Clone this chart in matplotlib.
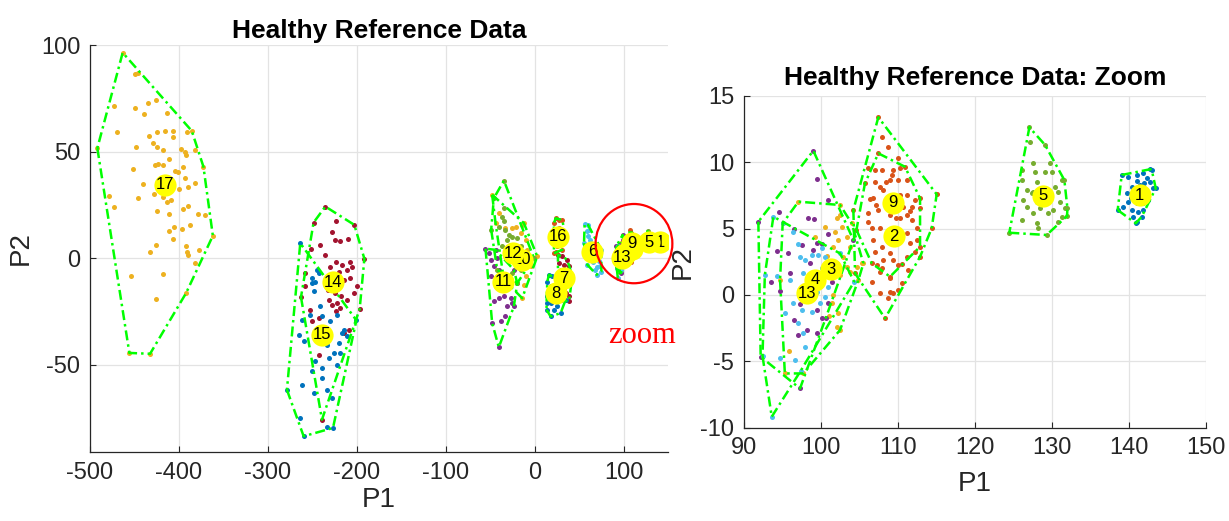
import matplotlib
matplotlib.use("Agg")
import matplotlib.pyplot as plt
import numpy as np
from matplotlib.patches import Ellipse

# 每个簇的点 (P1, P2)，从参考图读出的近似值
p01 = [(139.05, 9.04), (142.73, 9.47), (143.47, 8.04), (140.87, 5.40), (138.53, 6.40),
       (139.91, 8.92), (140.99, 9.04), (141.86, 9.17), (142.30, 8.79), (142.73, 8.54),
       (143.16, 8.04), (140.35, 8.16), (141.43, 8.29), (139.70, 7.66), (142.30, 7.79),
       (139.91, 7.03), (140.99, 6.91), (141.86, 6.91), (142.51, 7.16), (140.35, 6.40),
       (141.21, 6.28), (141.86, 6.40), (140.57, 5.90), (141.65, 5.90), (139.27, 6.66),
       (142.95, 9.42), (141.21, 7.41), (140.99, 5.52), (140.6, 7.7), (142.0, 8.4),
       (141.0, 8.6), (140.2, 7.3)]
p02 = [(107.44, 10.67), (110.9, 9.66), (112.86, 7.28), (112.86, 3.64), (108.96, 1.38),
       (106.6, 2.38), (104.6, 4.9), (105.7, 8.4), (106.15, 5.52), (106.58, 5.02),
       (107.67, 5.02), (112.5, 5.02), (111.13, 4.64), (106.8, 4.14), (107.88, 3.64),
       (111.56, 3.89), (112.4, 4.14), (107.02, 3.26), (112.2, 3.26), (111.13, 2.88),
       (108.96, 3.13), (109.4, 2.63), (108.1, 2.63), (110.05, 2.26), (107.23, 2.26),
       (110.5, 2.3), (107.88, 2.0), (108.5, 8.5), (110.2, 7.5), (107.2, 6.8),
       (109.8, 5.8), (111.5, 6.3), (106.4, 7.2)]
p03 = [(97.06, 7.03), (102.47, 6.78), (103.98, 5.4), (105.5, 2.38), (102.47, -2.64),
       (97.7, -5.91), (95.3, -5.91), (95.02, 5.4), (100.52, 5.14), (102.03, 5.77),
       (102.47, 6.02), (102.68, 5.14), (101.82, 4.77), (103.33, 4.39), (102.25, 4.14),
       (103.77, 3.64), (102.9, 2.88), (103.33, 2.13), (104.63, 2.13), (105.28, 2.38),
       (103.77, 1.75), (104.85, 1.13), (102.47, 1.5), (101.6, 0.0), (101.38, -0.63),
       (102.25, -1.39), (102.03, -2.39), (95.89, -4.2), (99.22, 4.39), (101.6, 3.64),
       (100.8, 2.9), (99.9, 1.6), (101.0, -1.6), (94.68, 1.13)]
p04 = [(91.86, 5.52), (99.0, 10.87), (104.2, 4.14), (97.27, -7.04), (92.16, -4.65),
       (99.44, 8.71), (100.95, 7.15), (94.59, 6.25), (98.35, 5.77), (99.09, 5.70),
       (100.95, 4.59), (94.33, 3.34), (95.76, 3.19), (95.97, 1.63), (99.44, 3.94),
       (100.09, 3.84), (98.57, 2.38), (101.38, 1.0), (101.6, 1.5), (94.68, 0.32),
       (97.27, -0.68), (99.53, -1.14), (100.95, -0.58), (100.09, -1.76), (100.6, -1.76),
       (97.06, -3.02), (96.49, -1.89), (99.5, -2.89), (98.14, -2.64), (97.49, 3.76),
       (99.0, 3.39), (93.5, 1.0), (96.5, 5.0)]
p05 = [(127.06, 12.63), (129.1, 11.3), (131.6, 8.66), (132.0, 6.53), (131.95, 5.95),
       (129.3, 4.52), (124.45, 4.69), (127.14, 11.55), (127.58, 9.92), (129.74, 9.97),
       (126.06, 8.67), (127.79, 9.29), (129.09, 9.29), (129.96, 9.29), (131.26, 8.67),
       (126.71, 7.91), (128.01, 8.54), (130.39, 8.16), (127.36, 7.66), (129.74, 7.66),
       (130.82, 7.79), (126.28, 7.16), (128.01, 7.03), (129.53, 7.03), (131.04, 7.03),
       (126.71, 6.66), (128.44, 6.53), (130.17, 6.4), (131.69, 6.53), (127.58, 6.15),
       (129.53, 6.15), (131.26, 5.9), (126.06, 5.65), (128.01, 5.4), (130.82, 5.52),
       (128.23, 5.02), (127.58, 7.79), (128.88, 8.04), (126.06, 9.42)]
p06 = [(56.3, 16.1), (60.1, 15.6), (75.1, 3.9), (75.1, -6.3), (69.8, -7.8), (59.3, -3.1),
       (55.6, 7.0), (58.5, 12.5), (60.5, 10.5), (62.5, 8.5), (64.0, 6.0), (66.5, 4.5),
       (68.5, 2.5), (70.5, 1.0), (72.0, -1.5), (70.0, -4.0), (66.0, -2.0), (62.0, 2.0),
       (73.5, -3.5), (61.0, 13.0), (64.5, 0.5), (67.5, -5.5)]
p07 = [(26.3, 1.5), (31.2, 0.8), (36.8, -0.8), (27.4, -2.4), (33.0, -3.2), (38.7, -3.9),
       (42.4, -8.6), (29.3, -5.5), (36.8, -11.7), (33.0, -14.9), (38.7, -18.0),
       (38.7, -20.3), (29.3, -19.6), (34.9, -16.4), (26.3, -8.6)]
p08 = [(16.2, -7.8), (19.9, -8.6), (14.3, -11.0), (27.4, -10.2), (18.0, -13.3),
       (31.2, -18.0), (34.9, -19.6), (14.3, -18.0), (18.0, -21.1), (25.5, -22.7),
       (29.3, -25.8), (18.0, -27.4), (13.5, -24.2), (21.8, -24.2), (13.5, -21.1)]
p09 = [(107.44, 13.39), (115.02, 7.58), (114.37, 5.02), (112.86, 2.88), (108.31, -1.76),
       (104.42, 1.63), (104.2, 6.4), (108.75, 11.17), (107.88, 11.93), (110.05, 10.29),
       (106.15, 9.54), (107.02, 9.42), (107.88, 9.42), (109.18, 9.04), (109.4, 9.42),
       (110.26, 9.54), (108.96, 8.66), (110.05, 8.66), (111.13, 8.66), (107.02, 8.54),
       (108.1, 7.91), (107.67, 8.16), (106.8, 7.28), (111.13, 7.53), (112.21, 7.15),
       (110.7, 6.65), (111.78, 6.65), (112.86, 6.53), (107.45, 6.4), (106.15, 6.15),
       (111.13, 6.02), (110.26, 5.77), (111.78, 5.65), (108.96, 6.02), (106.58, 1.0),
       (107.67, 0.12), (108.96, 0.25), (109.4, 0.12), (110.0, 0.4), (108.75, -0.26),
       (110.48, 0.87), (108.96, 1.25), (111.35, 1.88), (107.6, 1.7)]
p10 = [(-47.7, 29.7), (-32.7, 14.0), (-25.2, 14.0), (-21.4, 14.8), (-13.9, 15.6),
       (-12.0, 16.4), (-15.8, 11.7), (-10.1, 8.6), (-8.3, 3.9), (3.0, 0.8), (-4.5, -3.9),
       (-10.1, -8.6), (-12.0, -12.5), (-13.9, -18.8), (-34.5, -10.2), (-19.5, 0.8),
       (-23.3, 3.9), (-6.4, -0.8), (-43.9, 16.4), (-40.2, 21.1)]
p11 = [(-55.2, 4.4), (-43.9, 3.9), (-42.0, 0.0), (-45.8, -3.9), (-40.2, -5.5),
       (-43.9, -13.3), (-38.3, -14.9), (-30.8, -14.1), (-34.5, -18.0), (-27.0, -18.8),
       (-25.2, -21.1), (-40.2, -18.8), (-45.8, -20.3), (-30.8, -22.7), (-23.3, -22.7),
       (-32.7, -27.4), (-38.3, -29.7), (-47.7, -30.5), (-40.2, -41.8), (-49.5, -0.8),
       (-49.5, -8.6), (-23.3, -5.5), (-19.5, -11.7), (-27.0, -10.2), (-51.4, 2.3)]
p12 = [(-36.4, 19.2), (-34.5, 17.2), (-32.7, 13.3), (-28.9, 10.9), (-25.2, 10.1),
       (-19.5, 9.4), (-30.8, 8.6), (-23.3, 6.2), (-15.8, 5.5), (-36.4, 5.5), (-27.0, -0.8),
       (-19.5, -2.4), (-12.0, 0.0), (-15.8, -5.5), (-25.2, -7.1), (-34.5, 36.4),
       (-45.8, 28.1), (-0.7, 0.0), (-19.5, -11.7), (-42.0, -5.5), (-48.8, 13.3),
       (-34.5, 23.4), (-40.2, 14.8)]
p13 = [(93.81, 5.9), (95.02, 5.4), (96.32, 4.77), (97.06, 3.84), (97.27, 2.88),
       (97.92, 2.63), (98.79, 3.0), (99.65, 3.0), (100.09, 3.51), (100.52, 2.88),
       (95.97, 1.13), (94.33, 1.43), (97.7, 1.63), (100.09, 2.0), (99.44, 0.25),
       (100.95, 0.62), (99.87, -0.63), (96.41, -0.63), (95.32, -1.39), (97.49, -1.14),
       (98.79, -1.26), (97.06, -2.14), (97.7, -2.89), (97.92, -3.9), (96.62, -4.9),
       (94.68, -4.78), (97.36, -5.71), (93.6, -9.17), (102.47, 3.13), (100.52, -0.13),
       (92.4, -4.6), (92.7, 1.5), (104.3, 1.0)]
p14 = [(-235.3, 24.2), (-202.7, 15.6), (-191.4, -0.3), (-196.7, -23.9), (-239.1, -75.8),
       (-262.7, -18.3), (-248.5, 16.7), (-223.0, 17.5), (-227.8, 12.2), (-219.2, 7.8),
       (-224.1, 8.6), (-209.8, 8.9), (-241.7, 6.2), (-251.5, 4.3), (-235.3, 1.5),
       (-223.0, -1.6), (-216.6, -3.1), (-208.0, -1.6), (-211.0, -5.5), (-205.3, -4.2),
       (-220.3, -6.7), (-229.7, -4.2), (-207.2, -9.4), (-214.7, -10.2), (-199.7, -13.3),
       (-203.4, -16.4), (-217.7, -18.0), (-224.1, -16.4), (-232.7, -14.9), (-222.2, -21.1),
       (-227.8, -21.9), (-218.5, -23.5), (-211.0, -19.6), (-231.6, -19.6), (-253.0, -24.2),
       (-250.4, -29.7), (-242.8, -28.2), (-257.8, -13.3), (-257.8, -7.1), (-223.0, -25.0),
       (-209.1, -33.6), (-214.7, -35.2), (-242.8, -45.3)]
p15 = [(-263.5, 7.0), (-200.4, -29.2), (-226.7, -79.7), (-259.7, -83.6), (-278.5, -61.8),
       (-244.7, -5.5), (-250.4, -9.4), (-248.5, -15.6), (-241.0, -22.7), (-261.6, -28.9),
       (-252.2, -26.6), (-239.1, -27.4), (-229.7, -29.7), (-222.2, -26.6), (-216.6, -35.2),
       (-211.0, -36.7), (-220.3, -39.9), (-265.4, -36.0), (-259.7, -39.1), (-233.5, -40.7),
       (-226.0, -44.6), (-231.6, -46.9), (-246.6, -48.5), (-250.4, -53.2), (-239.1, -51.6),
       (-222.2, -50.0), (-218.5, -44.6), (-261.6, -59.4), (-248.5, -63.3), (-239.1, -56.3),
       (-233.5, -61.8), (-227.8, -65.7), (-263.5, -75.0), (-233.5, -79.3), (-214.7, -33.6),
       (-246.6, -11.0), (-242.8, -7.1), (-250.4, -11.7)]
p16 = [(23.7, 18.7), (27.4, 17.9), (31.2, 17.9), (21.8, 16.4), (27.4, 14.0), (33.0, 11.7),
       (34.9, 9.4), (21.8, 11.7), (21.8, 7.0), (29.3, 7.8), (31.2, 3.9), (23.7, 3.1),
       (25.5, 5.5), (21.8, 2.3)]
p17 = [(-463.2, 96.4), (-385.5, 59.7), (-372.4, 42.9), (-361.8, 10.5), (-391.9, -16.4),
       (-432.4, -44.9), (-455.7, -44.5), (-491.7, 51.6), (-449.4, 86.2), (-445.6, 86.7),
       (-472.6, 71.5), (-449.4, 70.3), (-438.8, 67.6), (-425.7, 74.2), (-435.1, 72.9),
       (-413.0, 68.2), (-470.0, 59.3), (-424.2, 59.3), (-415.6, 59.6), (-406.9, 59.8),
       (-391.2, 59.3), (-406.9, 56.7), (-433.2, 57.3), (-448.2, 52.3), (-428.7, 53.9),
       (-424.9, 52.3), (-418.2, 50.8), (-397.9, 51.1), (-393.0, 50.0), (-391.9, 48.4),
       (-381.8, 50.8), (-452.0, 41.7), (-426.8, 43.7), (-423.1, 44.2), (-417.4, 43.7),
       (-410.7, 46.3), (-404.3, 41.0), (-401.3, 40.6), (-394.9, 42.9), (-392.7, 37.6),
       (-440.7, 34.8), (-425.0, 35.1), (-410.0, 34.8), (-399.4, 32.5), (-389.3, 33.4),
       (-381.8, 35.4), (-478.3, 29.3), (-445.6, 28.1), (-428.0, 30.1), (-417.4, 28.9),
       (-413.7, 26.1), (-409.2, 27.3), (-473.0, 24.2), (-389.3, 24.6), (-395.7, 23.1),
       (-424.9, 22.0), (-410.7, 20.6), (-378.8, 20.7), (-370.5, 20.3), (-405.4, 14.8),
       (-396.0, 13.7), (-387.4, 15.6), (-411.4, 12.9), (-406.9, 8.9), (-376.9, 3.9),
       (-425.7, 6.2), (-432.5, 3.1), (-391.9, 5.7), (-390.4, 3.1), (-389.3, 1.5),
       (-381.8, -2.1), (-454.2, -8.6), (-417.4, -7.4), (-425.7, -19.3)]

clusters = [p01, p02, p03, p04, p05, p06, p07, p08, p09, p10, p11, p12, p13, p14, p15, p16, p17]

# 簇中心标签
label_ids = list(range(1, 18))
label_x = [141.4, 109.5, 101.3, 99.2, 128.8, 64.9, 33.0, 23.7, 109.3,
           -13.9, -35.3, -24.0, 98.2, -227.1, -239.1, 26.3, -415.5]
label_y = [7.53, 4.44, 1.93, 1.13, 7.46, 3.1, -9.4, -16.4, 6.95,
           -0.8, -11.0, 2.3, 0.12, -11.4, -36.0, 10.1, 34.4]

zoom_center = (111.8, 6.8)
zoom_size = (86.3, 37.2)

colors = ["#0072BD", "#D95319", "#EDB120", "#7E2F8E", "#77AC30", "#4DBEEE", "#A2142F"]

plt.rcParams["font.family"] = ["Liberation Sans", "DejaVu Sans"]
plt.rcParams["axes.unicode_minus"] = False


def hull(pts):
    # monotone chain 凸包
    pts = sorted(set(pts))
    def cross(o, a, b):
        return (a[0] - o[0]) * (b[1] - o[1]) - (a[1] - o[1]) * (b[0] - o[0])
    lower, upper = [], []
    for p in pts:
        while len(lower) >= 2 and cross(lower[-2], lower[-1], p) <= 0:
            lower.pop()
        lower.append(p)
    for p in reversed(pts):
        while len(upper) >= 2 and cross(upper[-2], upper[-1], p) <= 0:
            upper.pop()
        upper.append(p)
    h = lower[:-1] + upper[:-1]
    return np.array(h + [h[0]])


def draw(ax, xlim, ylim):
    for k, pts in enumerate(clusters):
        a = np.array(pts)
        ax.scatter(a[:, 0], a[:, 1], s=13, color=colors[k % 7], linewidths=0, zorder=2)
    for pts in clusters:
        h = hull(pts)
        ax.plot(h[:, 0], h[:, 1], color="#00FF00", lw=1.8,
                linestyle=(0, (4, 1.6, 1, 1.6)), zorder=3)
    # 按顺序画标签：后画的圆会盖住先画的数字；视野外的标签不画
    for n, (i, x, y) in enumerate(zip(label_ids, label_x, label_y)):
        if not (xlim[0] <= x <= xlim[1] and ylim[0] <= y <= ylim[1]):
            continue
        ax.plot(x, y, "o", ms=16, color="#FFFF00", mec="none", zorder=10 + 2 * n)
        ax.text(x, y, str(i), ha="center", va="center", fontsize=12,
                color="black", zorder=11 + 2 * n, clip_on=True)
    ax.set_xlim(*xlim)
    ax.set_ylim(*ylim)
    for s in ["top", "right"]:
        ax.spines[s].set_visible(False)
    for s in ["left", "bottom"]:
        ax.spines[s].set_color("#262626")
        ax.spines[s].set_linewidth(0.9)
    ax.tick_params(direction="in", length=4, color="#262626", labelcolor="#262626",
                   labelsize=17, pad=7)
    ax.grid(True, color="#e3e3e3", lw=0.9)
    ax.set_axisbelow(True)


fig = plt.figure(figsize=(12.29, 5.21), dpi=100)
ax1 = fig.add_axes([0.0732, 0.1324, 0.4703, 0.7812])
ax2 = fig.add_axes([0.6054, 0.179, 0.3759, 0.637])

draw(ax1, (-500, 150), (-91, 100))
ax1.set_xticks(np.arange(-500, 101, 100))
ax1.set_yticks([-50, 0, 50, 100])
ax1.set_title("Healthy Reference Data", fontsize=19, fontweight="bold", pad=5)
ax1.set_xlabel("P1", fontsize=20, color="#262626", labelpad=2)
ax1.set_ylabel("P2", fontsize=20, color="#262626", labelpad=5)
ax1.add_patch(Ellipse(zoom_center, zoom_size[0], zoom_size[1], fill=False,
                      ec="#FF0000", lw=1.6, zorder=50, clip_on=False))
ax1.text(121, -40, "zoom", color="#FF0000", fontsize=22, family="Liberation Serif",
         ha="center", va="baseline", zorder=50)

draw(ax2, (90, 150), (-10, 15))
ax2.set_xticks(np.arange(90, 151, 10))
ax2.set_yticks(np.arange(-10, 16, 5))
ax2.set_title("Healthy Reference Data: Zoom", fontsize=19, fontweight="bold", pad=8)
ax2.set_xlabel("P1", fontsize=20, color="#262626", labelpad=8)
ax2.set_ylabel("P2", fontsize=20, color="#262626", labelpad=3)

fig.savefig("out.png", dpi=100)
